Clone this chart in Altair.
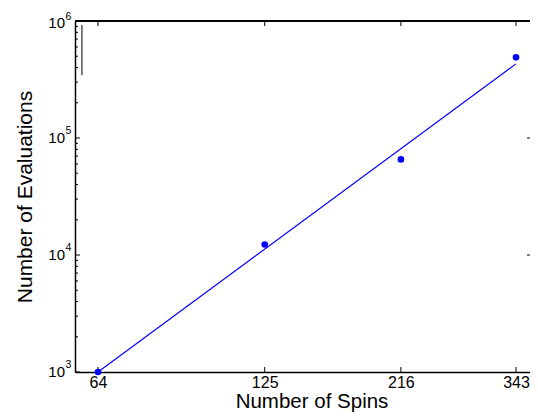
import altair as alt
import pandas as pd

# ---- data ----
spins = [64, 125, 216, 343]
evaluations = [1000, 12300, 65600, 489000]

fit_spins = [64, 343]
fit_evals = [1000, 430000]

x_ticks = [64, 125, 216, 343]
y_decades = [1000, 10000, 100000]
y_exponents = ["3", "4", "5"]
y_top_decade = [1000000]
y_top_exponent = ["6"]
y_minor = [m * d for d in [1000, 10000, 100000] for m in range(2, 10)]
right_ticks = [10000, 100000]

stray_x = [60]
stray_y1 = [345000]
stray_y2 = [924000]

# ---- layout ----
W, H = 455, 351
FONT = "Liberation Sans"
BLUE = "#0000FF"

xs = alt.Scale(type="log", domain=[58.35, 362.8], nice=False, zero=False)
ys = alt.Scale(type="log", domain=[1000, 1000000], nice=False, zero=False)

xaxis = alt.Axis(values=x_ticks, ticks=False, grid=False, format="d",
                 labelFont=FONT, labelFontSize=16, labelColor="black",
                 labelPadding=2, labelFlush=False, labelOverlap=False,
                 domain=True, domainColor="black", domainWidth=1.5,
                 title="Number of Spins", titleFont=FONT, titleFontSize=20.5,
                 titleFontWeight="normal", titleColor="black",
                 titleX=236.5, titleY=35.5, titleBaseline="alphabetic")
yaxis = alt.Axis(labels=False, ticks=False, grid=False,
                 domain=True, domainColor="black", domainWidth=1.5,
                 title="Number of Evaluations", titleFont=FONT, titleFontSize=21,
                 titleFontWeight="normal", titleColor="black",
                 titleX=-44, titleY=H / 2, titleAngle=-90,
                 titleAlign="center", titleBaseline="alphabetic")

X = alt.X("x:Q", scale=xs, axis=xaxis)
Y = alt.Y("y:Q", scale=ys, axis=yaxis)

pts = pd.DataFrame({"x": spins, "y": evaluations})
fit = pd.DataFrame({"x": fit_spins, "y": fit_evals})
xt = pd.DataFrame({"x": x_ticks})
ymaj = pd.DataFrame({"y": y_decades, "e": y_exponents})
ytop = pd.DataFrame({"y": y_top_decade, "e": y_top_exponent})
ymaj_all = pd.DataFrame({"y": y_decades + y_top_decade})
ymin = pd.DataFrame({"y": y_minor})
yr = pd.DataFrame({"y": right_ticks})
stray = pd.DataFrame({"x": stray_x, "y": stray_y1, "y2": stray_y2})

line = alt.Chart(fit).mark_line(color=BLUE, strokeWidth=1.2).encode(x=X, y=Y)
dots = alt.Chart(pts).mark_circle(color=BLUE, size=44, opacity=1).encode(x=X, y=Y)

top_spine = alt.Chart(xt).mark_rule(color="black", strokeWidth=1.5).encode(
    x=alt.value(0), x2=alt.value(W), y=alt.value(0))
bot_ticks = alt.Chart(xt).mark_rule(color="black", strokeWidth=1).encode(
    x=X, y=alt.value(H), y2=alt.value(H - 5))
top_ticks = alt.Chart(xt).mark_rule(color="black", strokeWidth=1).encode(
    x=X, y=alt.value(0), y2=alt.value(5))
ymaj_ticks = alt.Chart(ymaj_all).mark_rule(color="black", strokeWidth=1).encode(
    y=Y, x=alt.value(0), x2=alt.value(5))
ymin_ticks = alt.Chart(ymin).mark_rule(color="black", strokeWidth=1).encode(
    y=Y, x=alt.value(0), x2=alt.value(3))
yr_ticks = alt.Chart(yr).mark_rule(color="black", strokeWidth=1).encode(
    y=Y, x=alt.value(W - 3), x2=alt.value(W))
stray_rule = alt.Chart(stray).mark_rule(color="black", strokeWidth=1).encode(
    x=X, y=Y, y2="y2:Q")

ten = alt.Chart(ymaj).mark_text(text="10", font=FONT, fontSize=15, color="black",
                                align="right", baseline="middle", dx=-10, dy=0).encode(
    y=Y, x=alt.value(0))
expo = alt.Chart(ymaj).mark_text(font=FONT, fontSize=10.5, color="black",
                                 align="left", baseline="alphabetic", dx=-9.5, dy=-4.5).encode(
    y=Y, x=alt.value(0), text="e:N")
ten_top = alt.Chart(ytop).mark_text(text="10", font=FONT, fontSize=15, color="black",
                                    align="right", baseline="middle", dx=-10, dy=2).encode(
    y=Y, x=alt.value(0))
expo_top = alt.Chart(ytop).mark_text(font=FONT, fontSize=10.5, color="black",
                                     align="left", baseline="alphabetic", dx=-9.5, dy=-1).encode(
    y=Y, x=alt.value(0), text="e:N")

chart = alt.layer(
    top_spine, bot_ticks, top_ticks, ymaj_ticks, ymin_ticks, yr_ticks,
    stray_rule, line, dots, ten, expo, ten_top, expo_top
).properties(
    width=W, height=H,
    autosize=alt.AutoSizeParams(type="none"),
    padding={"left": 67, "top": 13, "right": 0, "bottom": 40},
    background="white",
).configure_view(stroke=None)

chart.save("out.html", embed_options={"renderer": "svg", "actions": False})
